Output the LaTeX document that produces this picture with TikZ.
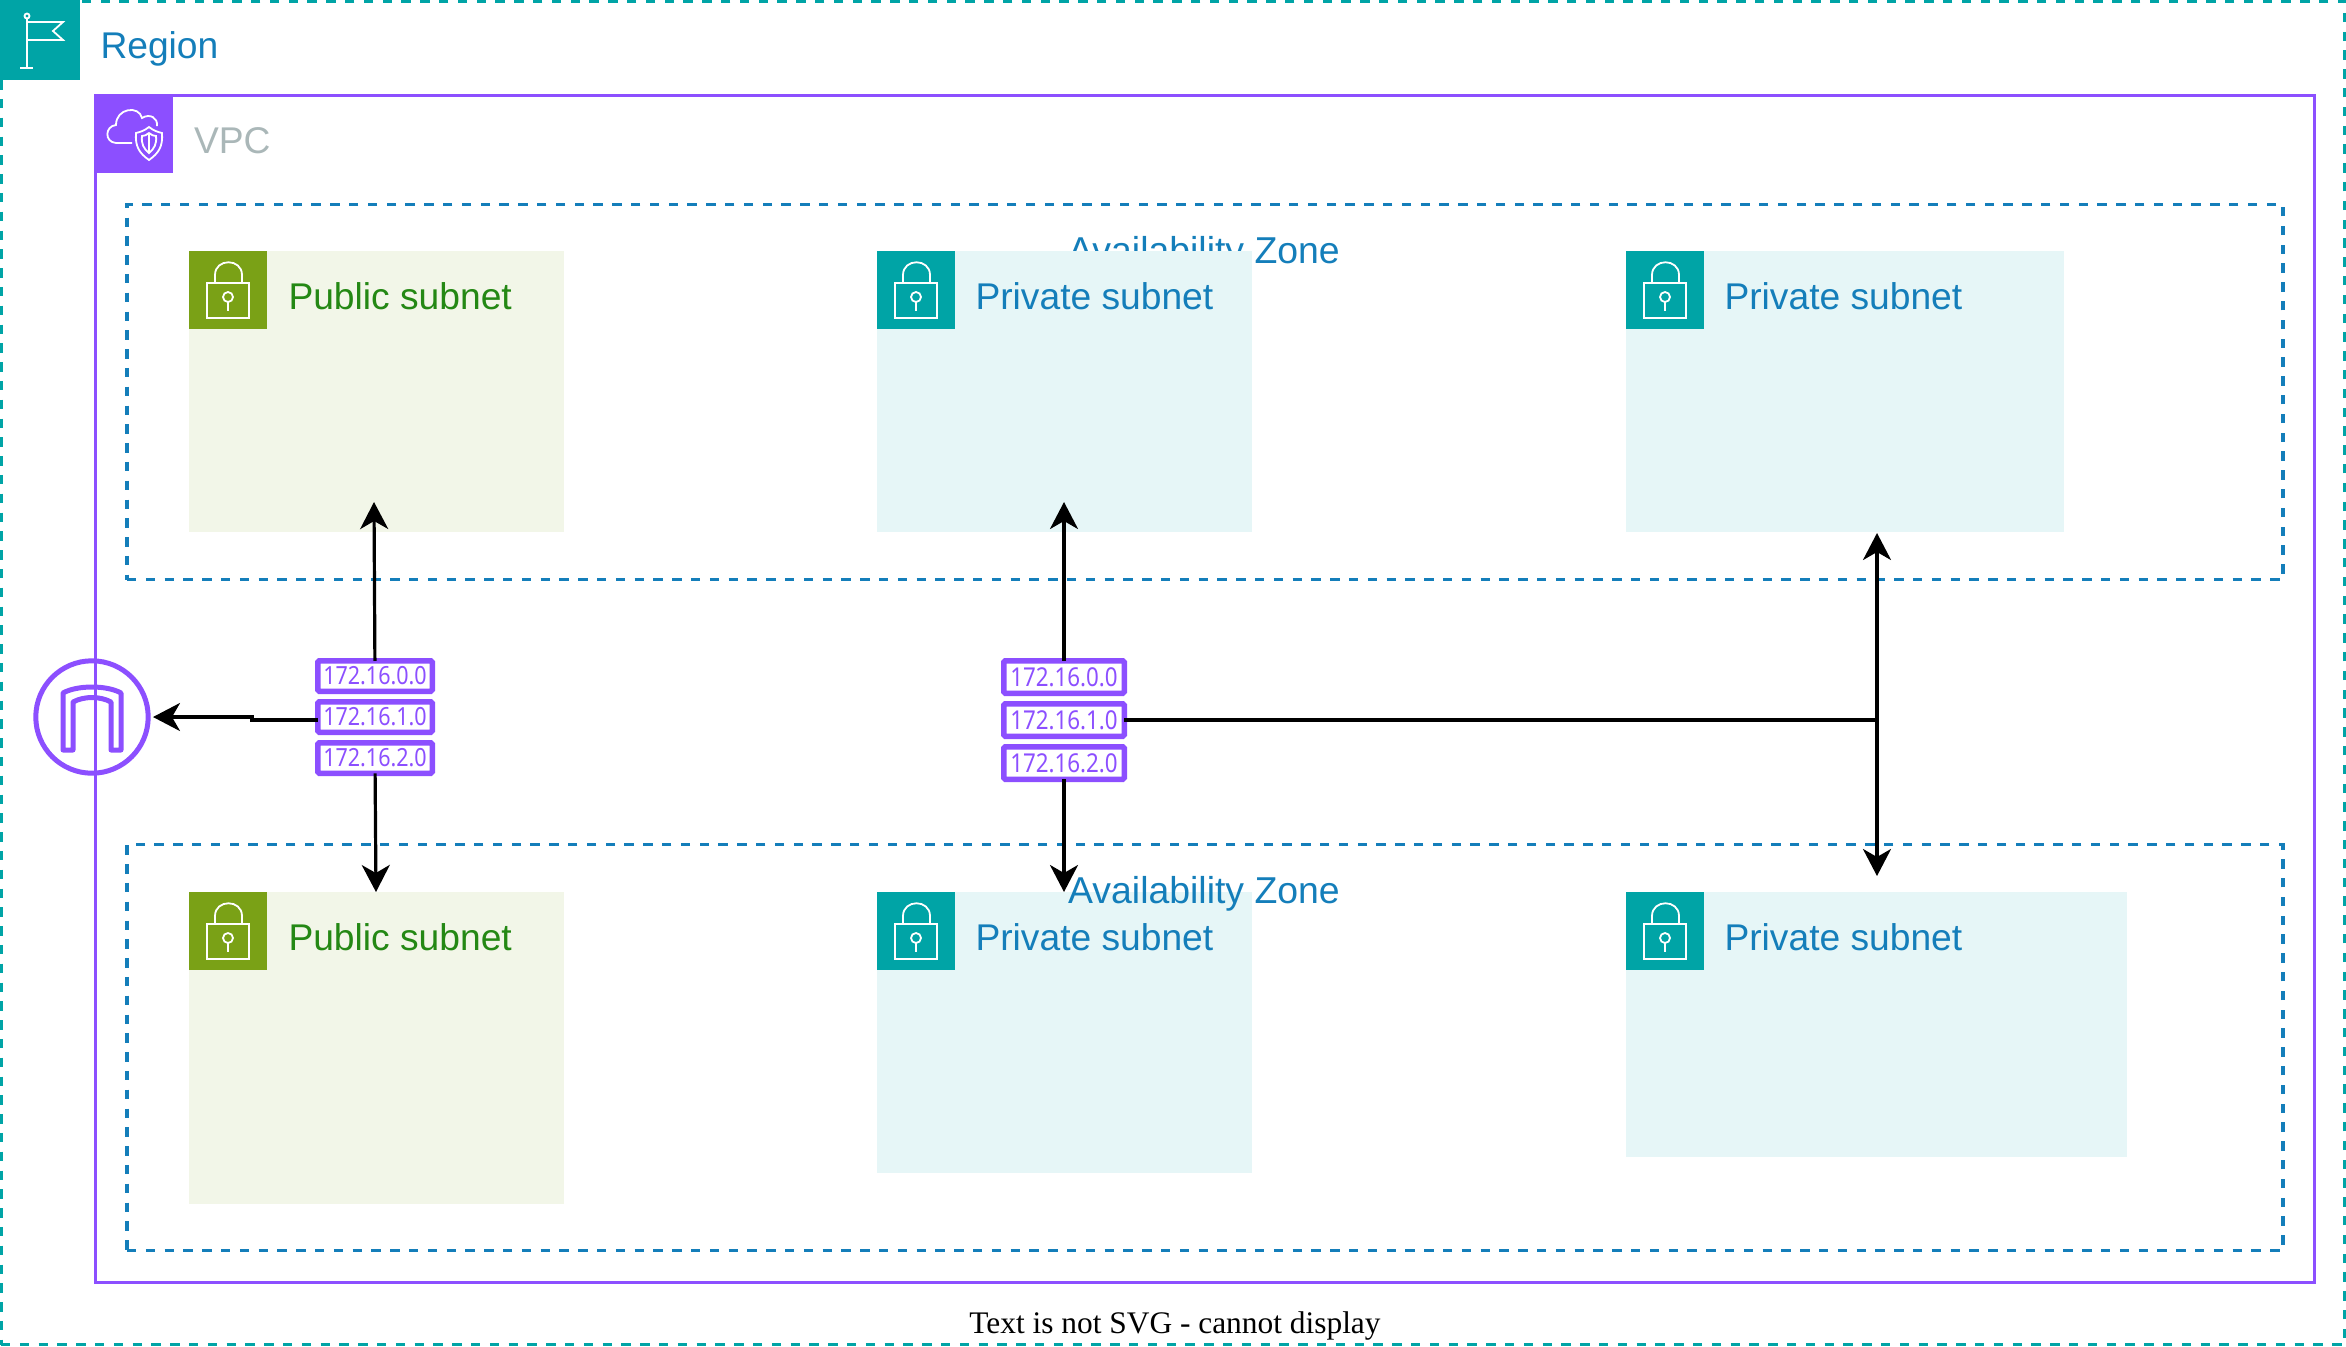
\documentclass[tikz,border=0pt]{standalone}
\usepackage{fontspec}
\usetikzlibrary{positioning,arrows.meta}
\setmainfont{Liberation Sans}
\newfontfamily\notefont{Liberation Serif}
\newfontfamily\ipfont[FakeStretch=0.86]{Noto Sans}
\definecolor{regionteal}{HTML}{00A4A6}
\definecolor{vpcpurple}{HTML}{8C4FFF}
\definecolor{azblue}{HTML}{147EBA}
\definecolor{vpcgrey}{HTML}{AAB7B8}
\definecolor{pubgreen}{HTML}{7AA116}
\definecolor{pubtext}{HTML}{248814}
\definecolor{pubfill}{HTML}{F2F6E8}
\definecolor{privfill}{HTML}{E6F6F7}
\tikzset{
  lock icon/.pic={
    \draw[icon line] (18,32) rectangle (60,67);
    \draw[icon line] (26,32) -- (26,24) .. controls (26,7) and (53,7) .. (53,24) -- (53,32);
    \draw[icon line] (39,46) circle[radius=5];
    \draw[icon line] (39,51) -- (39,60);
  }
}
\begin{document}
\begin{tikzpicture}[x=0.5pt, y=-0.5pt, node distance=5pt,
                    every node/.style={inner sep=0pt, outer sep=0pt},
                    dash line/.style={line width=1.55pt, dash pattern=on 4.7pt off 4.7pt},
                    region box/.style={draw=regionteal, dash line, anchor=north west},
                    az box/.style={draw=azblue, dash line, anchor=north west},
                    vpc box/.style={draw=vpcpurple, line width=1.5pt, anchor=north west},
                    icon box/.style={anchor=north west, minimum size=39pt},
                    pub subnet/.style={fill=pubfill, anchor=north west},
                    priv subnet/.style={fill=privfill, anchor=north west},
                    title/.style={font=\fontsize{18.6}{22}\selectfont, text height=13pt, text depth=0pt, anchor=west},
                    az title/.style={title, font=\fontsize{18.7}{22}\selectfont, text=azblue, anchor=base},
                    ip small/.style={draw=vpcpurple, line width=2.75pt, rounded corners=0.8pt, fill=white, text=vpcpurple,
                                     minimum width=57.25pt, minimum height=15.25pt, font=\ipfont\fontsize{12.5}{14}\selectfont},
                    ip large/.style={ip small, minimum width=60.25pt, minimum height=16.25pt, font=\ipfont\fontsize{13}{14}\selectfont},
                    icon line/.style={draw=white, line width=0.9pt},
                    link/.style={draw=black, line width=1.6pt, -{Stealth[length=13.5pt, width=14pt, inset=4pt]}}]

  \useasboundingbox (0,0) rectangle (2346,1346);

  \node[region box, minimum width=1171.85pt, minimum height=671.75pt] (region) at (1,1) {};
  \node[az box, minimum width=1078pt, minimum height=187.5pt] (az1) at (127,204.5) {};
  \node[az box, minimum width=1078pt, minimum height=203pt] (az2) at (127,844.5) {};
  \node[vpc box, minimum width=1109.5pt, minimum height=593.5pt] (vpc) at (95,95.5) {};

  \node[icon box, fill=regionteal, minimum size=40pt] (regioni) at (0,0) {};
  \node[title, text=azblue] (regiont) [right=10.25pt of regioni, yshift=-2.5pt] {Region};
  \draw[icon line] (27,19) -- (27,68) (20,68) -- (33,68);
  \draw[icon line] (27,16) circle[radius=2.5];
  \draw[icon line] (27,22) -- (63,22) -- (53,31) -- (63,40) -- (27,40);

  \node[icon box, fill=vpcpurple] (vpci) at (95,95) {};
  \node[title, text=vpcgrey] (vpct) [right=10.5pt of vpci, yshift=-3pt] {VPC};
  \draw[icon line] (132,143) -- (116,143) .. controls (104,142) and (105,126) .. (116,125)
                   .. controls (116,108) and (139,105) .. (142,118) .. controls (150,113) and (158,118) .. (157,126);
  \draw[icon line] (149,127) .. controls (154,131) and (158,132) .. (162,133) .. controls (163,146) and (159,153) .. (149,160)
                   .. controls (139,153) and (135,146) .. (136,133) .. controls (140,132) and (144,131) .. (149,127) -- cycle;
  \draw[icon line] (149,133) .. controls (151,135) and (154,136) .. (156,136) .. controls (157,144) and (154,149) .. (149,153)
                   .. controls (144,149) and (141,144) .. (142,136) .. controls (144,136) and (147,135) .. (149,133) -- cycle;
  \draw[icon line] (149,133) -- (149,153);

  \node[az title] (az1t) at (1204,263) {Availability Zone};

  \node[pub subnet, minimum width=187.5pt, minimum height=140.5pt] (pub1) at (189,251) {};
  \node[priv subnet, minimum width=187.25pt, minimum height=140.5pt] (priv1) at (877,251) {};
  \node[priv subnet, minimum width=218.75pt, minimum height=140.5pt] (far1) at (1626,251) {};
  \node[pub subnet, minimum width=187.5pt, minimum height=156pt] (pub2) at (189,892) {};
  \node[priv subnet, minimum width=187.25pt, minimum height=140.5pt] (priv2) at (877,892) {};
  \node[priv subnet, minimum width=250.25pt, minimum height=132.5pt] (far2) at (1626,892) {};

  \node[icon box, fill=pubgreen] (pub1i) at (pub1.north west) {};
  \node[icon box, fill=regionteal] (priv1i) at (priv1.north west) {};
  \node[icon box, fill=regionteal] (far1i) at (far1.north west) {};
  \node[icon box, fill=pubgreen] (pub2i) at (pub2.north west) {};
  \node[icon box, fill=regionteal] (priv2i) at (priv2.north west) {};
  \node[icon box, fill=regionteal] (far2i) at (far2.north west) {};

  \pic at (pub1i.north west) {lock icon};
  \pic at (priv1i.north west) {lock icon};
  \pic at (far1i.north west) {lock icon};
  \pic at (pub2i.north west) {lock icon};
  \pic at (priv2i.north west) {lock icon};
  \pic at (far2i.north west) {lock icon};

  \node[title, text=pubtext] (pub1t) [right=10.75pt of pub1i, yshift=-3pt] {Public subnet};
  \node[title, text=azblue] (priv1t) [right=10.25pt of priv1i, yshift=-3pt] {Private subnet};
  \node[title, text=azblue] (far1t) [right=10.25pt of far1i, yshift=-3pt] {Private subnet};
  \node[title, text=pubtext] (pub2t) [right=10.75pt of pub2i, yshift=-3pt] {Public subnet};
  \node[title, text=azblue] (priv2t) [right=10.25pt of priv2i, yshift=-3pt] {Private subnet};
  \node[title, text=azblue] (far2t) [right=10.25pt of far2i, yshift=-3pt] {Private subnet};

  \node[az title] (az2t) at (1204,903) {Availability Zone};

  \node[ip small] (ipa0) at (375,676) {172.16.0.0};
  \node[ip small] (ipa1) [below=5.25pt of ipa0] {172.16.1.0};
  \node[ip small] (ipa2) [below=5.25pt of ipa1] {172.16.2.0};
  \node[ip large] (ipb0) at (1064,677) {172.16.0.0};
  \node[ip large] (ipb1) [below=5.25pt of ipb0] {172.16.1.0};
  \node[ip large] (ipb2) [below=5.25pt of ipb1] {172.16.2.0};

  \node[circle, draw=vpcpurple, line width=2.5pt, minimum size=56.2pt] (gate) at (92,717) {};
  \draw[draw=vpcpurple, line width=2.5pt, line join=round, shift={(gate.center)}]
     (-29,33) -- (-29,-24) .. controls (-15,-32) and (15,-32) .. (29,-24) -- (29,33) -- (19,33) -- (19,-15)
     .. controls (8,-21) and (-8,-21) .. (-19,-15) -- (-19,33) -- cycle;

  \coordinate (pub1end) at (374,502);
  \coordinate (priv1end) at (1064,502);
  \coordinate (far1end) at (1877,533);
  \coordinate (pub2end) at (376,892);
  \coordinate (priv2end) at (1064,892);
  \coordinate (far2end) at (1877,876);
  \coordinate (gatejog1) at (252,720);
  \coordinate (gatejog2) at (252,717);

  \path[link]
    (ipa0) edge (pub1end)
    (ipa2) edge (pub2end)
    (ipb0) edge (priv1end)
    (ipb2) edge (priv2end);
  \draw[link, shorten >=2.4pt] ([yshift=-1.5pt]ipa1.west) -- (gatejog1) -- (gatejog2) -- (gate.east);
  \draw[link] (ipb1.east) -| (far1end);
  \draw[link] (ipb1.east) -| (far2end);

  \node[font=\notefont\fontsize{15.7}{18}\selectfont, anchor=base] (note) at (1175,1333) {Text is not SVG - cannot display};

\end{tikzpicture}
\end{document}
